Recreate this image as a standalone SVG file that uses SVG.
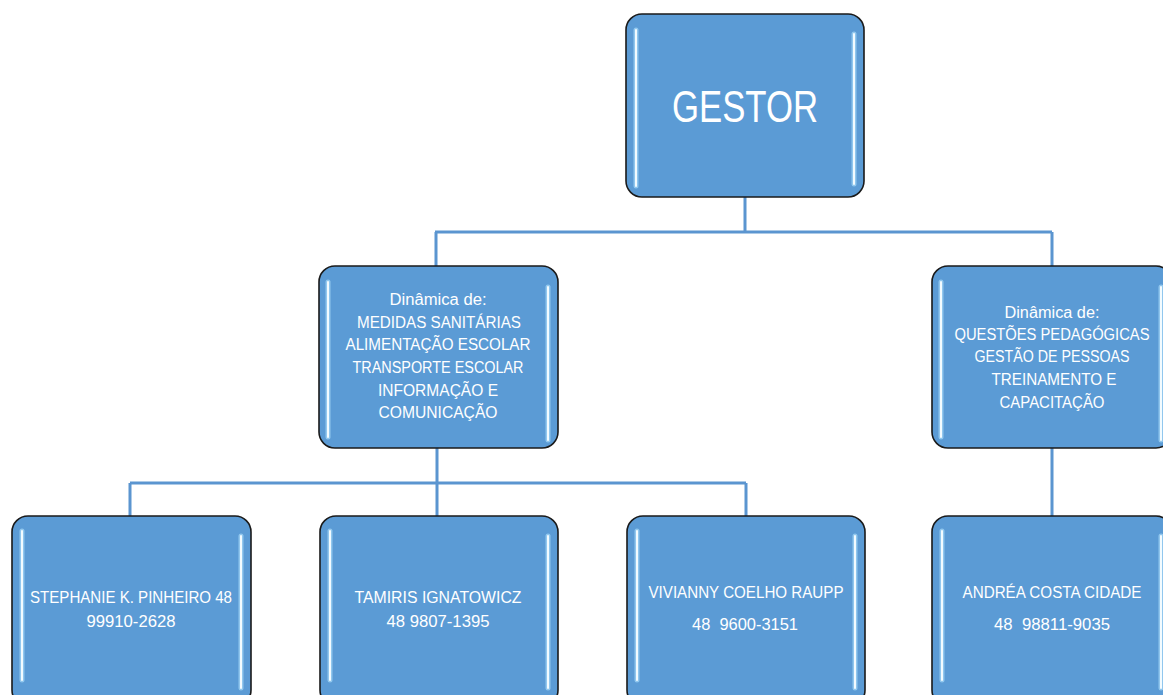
<svg xmlns="http://www.w3.org/2000/svg" width="1163" height="695" viewBox="0 0 1163 695">
<style>
.box{fill:#5b9bd5;stroke:#1a1a1a;stroke-width:1.6}
.glowB{stroke:#9fd3f5;stroke-width:5;stroke-linecap:round;opacity:0.8}
.glowW{stroke:#f2fbff;stroke-width:2;stroke-linecap:round}
.t{fill:#ffffff;font-family:"Liberation Sans",Arial,sans-serif;text-anchor:middle}
.m{font-size:16px}
.b{font-size:16px}
.con{fill:none;stroke:#5b95d0;stroke-width:3}
</style>
<rect width="1163" height="695" fill="#ffffff"/>
<g id="connectors">
<path class="con" d="M745 197 V232 M435 232 H1052 M436 232 V266 M1052 232 V266"/>
<path class="con" d="M437 448 V516 M130 483 H746 M130 483 V516 M746 483 V516 M1052 448 V516"/>
</g>
<g id="gestor">
<rect class="box" x="626" y="14" width="238" height="183" rx="16"/>
<line class="glowB" x1="636" y1="30" x2="636" y2="186"/><line class="glowW" x1="636" y1="30" x2="636" y2="186"/>
<line class="glowB" x1="854" y1="34" x2="854" y2="184"/><line class="glowW" x1="854" y1="34" x2="854" y2="184"/>
<text class="t" x="745" y="122" font-size="45" textLength="146" lengthAdjust="spacingAndGlyphs">GESTOR</text>
</g>
<g id="mid-left">
<rect class="box" x="319" y="266" width="239" height="182" rx="16"/>
<line class="glowB" x1="328" y1="282" x2="328" y2="437"/><line class="glowW" x1="328" y1="282" x2="328" y2="437"/>
<line class="glowB" x1="548" y1="287" x2="548" y2="440"/><line class="glowW" x1="548" y1="287" x2="548" y2="440"/>
<text class="t m" x="438" y="305" textLength="97" lengthAdjust="spacingAndGlyphs">Dinâmica de:</text>
<text class="t m" x="439" y="328" textLength="164" lengthAdjust="spacingAndGlyphs">MEDIDAS SANITÁRIAS</text>
<text class="t m" x="438" y="350" textLength="185" lengthAdjust="spacingAndGlyphs">ALIMENTAÇÃO ESCOLAR</text>
<text class="t m" x="438" y="373" textLength="171" lengthAdjust="spacingAndGlyphs">TRANSPORTE ESCOLAR</text>
<text class="t m" x="438" y="396" textLength="120" lengthAdjust="spacingAndGlyphs">INFORMAÇÃO E</text>
<text class="t m" x="438" y="418" textLength="119" lengthAdjust="spacingAndGlyphs">COMUNICAÇÃO</text>
</g>
<g id="mid-right">
<rect class="box" x="932" y="266" width="240" height="182" rx="16"/>
<line class="glowB" x1="941" y1="282" x2="941" y2="437"/><line class="glowW" x1="941" y1="282" x2="941" y2="437"/>
<line class="glowB" x1="1161" y1="287" x2="1161" y2="440"/><line class="glowW" x1="1161" y1="287" x2="1161" y2="440"/>
<text class="t m" x="1052" y="318" textLength="95" lengthAdjust="spacingAndGlyphs">Dinâmica de:</text>
<text class="t m" x="1052" y="340" textLength="195" lengthAdjust="spacingAndGlyphs">QUESTÕES PEDAGÓGICAS</text>
<text class="t m" x="1052" y="362" textLength="155" lengthAdjust="spacingAndGlyphs">GESTÃO DE PESSOAS</text>
<text class="t m" x="1054" y="385" textLength="125" lengthAdjust="spacingAndGlyphs">TREINAMENTO E</text>
<text class="t m" x="1052" y="408" textLength="105" lengthAdjust="spacingAndGlyphs">CAPACITAÇÃO</text>
</g>
<g id="stephanie">
<rect class="box" x="12" y="516" width="239" height="190" rx="16"/>
<line class="glowB" x1="22" y1="531" x2="22" y2="680"/><line class="glowW" x1="22" y1="531" x2="22" y2="680"/>
<line class="glowB" x1="241" y1="536" x2="241" y2="688"/><line class="glowW" x1="241" y1="536" x2="241" y2="688"/>
<text class="t b" x="131" y="603" textLength="202" lengthAdjust="spacingAndGlyphs">STEPHANIE K. PINHEIRO 48</text>
<text class="t b" x="131" y="627" textLength="89" lengthAdjust="spacingAndGlyphs">99910-2628</text>
</g>
<g id="tamiris">
<rect class="box" x="320" y="516" width="238" height="190" rx="16"/>
<line class="glowB" x1="330" y1="531" x2="330" y2="680"/><line class="glowW" x1="330" y1="531" x2="330" y2="680"/>
<line class="glowB" x1="548" y1="536" x2="548" y2="688"/><line class="glowW" x1="548" y1="536" x2="548" y2="688"/>
<text class="t b" x="438" y="603" textLength="167" lengthAdjust="spacingAndGlyphs">TAMIRIS IGNATOWICZ</text>
<text class="t b" x="438" y="627" textLength="103" lengthAdjust="spacingAndGlyphs">48 9807-1395</text>
</g>
<g id="vivianny">
<rect class="box" x="627" y="516" width="238" height="190" rx="16"/>
<line class="glowB" x1="637" y1="531" x2="637" y2="680"/><line class="glowW" x1="637" y1="531" x2="637" y2="680"/>
<line class="glowB" x1="855" y1="536" x2="855" y2="688"/><line class="glowW" x1="855" y1="536" x2="855" y2="688"/>
<text class="t b" x="746" y="598" textLength="195" lengthAdjust="spacingAndGlyphs">VIVIANNY COELHO RAUPP</text>
<text class="t b" x="745" y="630" textLength="106" lengthAdjust="spacingAndGlyphs" xml:space="preserve">48  9600-3151</text>
</g>
<g id="andrea">
<rect class="box" x="932" y="516" width="240" height="190" rx="16"/>
<line class="glowB" x1="942" y1="531" x2="942" y2="680"/><line class="glowW" x1="942" y1="531" x2="942" y2="680"/>
<line class="glowB" x1="1161" y1="536" x2="1161" y2="688"/><line class="glowW" x1="1161" y1="536" x2="1161" y2="688"/>
<text class="t b" x="1052" y="598" textLength="179" lengthAdjust="spacingAndGlyphs">ANDRÉA COSTA CIDADE</text>
<text class="t b" x="1052" y="630" textLength="116" lengthAdjust="spacingAndGlyphs" xml:space="preserve">48  98811-9035</text>
</g>
</svg>
